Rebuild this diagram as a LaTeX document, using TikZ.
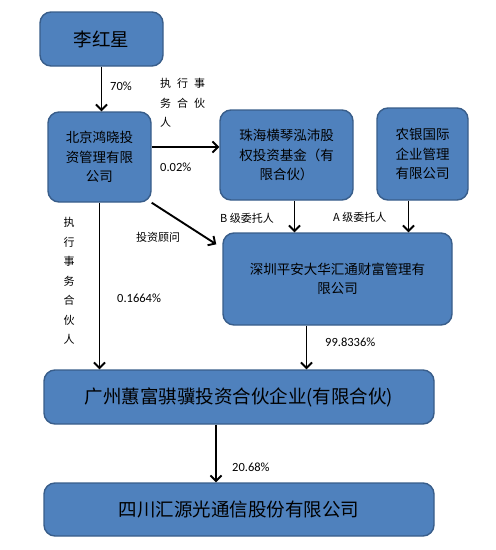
\documentclass[tikz,border=0pt]{standalone}
\usepackage{fontspec}
\newfontfamily\cjk{Noto Sans CJK SC}
\newfontfamily\pct{Carlito}
\usetikzlibrary{positioning, arrows.meta, calc}
\definecolor{boxBlue}{RGB}{79,129,189}
\definecolor{boxEdge}{RGB}{56,93,138}

\begin{document}
\begin{tikzpicture}[
    x=1pt, y=-1pt,
    >={Straight Barb[length=5.5pt,width=11pt]},
    ent/.style={draw=boxEdge, line width=1.4pt, fill=boxBlue,
                rounded corners=11pt, align=center, inner sep=0pt,
                font=\cjk\fontsize{13.5}{19.5}\selectfont},
    entbig/.style={ent, font=\cjk\fontsize{18.5}{22}\selectfont},
    own/.style={->, line width=1.9pt},
    lbl/.style={font=\cjk\fontsize{11}{19.5}\selectfont, anchor=west,
                inner sep=0pt, align=left},
    pctlbl/.style={font=\pct\fontsize{12.5}{14}\selectfont, anchor=west,
                   inner sep=0pt}
]
\useasboundingbox (0,0) rectangle (496,550);

% ---- entities ----
\node[entbig, minimum width=123pt, minimum height=54pt] (lhx) at (101.5,39) {李红星};
\node[ent, minimum width=103pt, minimum height=90pt] (bj) at (99.5,157)
     {北京鸿晓投\\资管理有限\\公司};
\node[ent, minimum width=133pt, minimum height=90pt] (zh) at (286.5,155)
     {珠海横琴泓沛股\\权投资基金（有\\限合伙）};
\node[ent, minimum width=91pt, minimum height=92pt] (ny) at (422.5,154)
     {农银国际\\企业管理\\有限公司};
\node[ent, minimum width=229pt, minimum height=92pt] (sz) at (337.5,279)
     {深圳平安大华汇通财富管理有\\限公司};
\node[entbig, minimum width=390pt, minimum height=54pt] (gz) at (239,397)
     {广州蕙富骐骥投资合伙企业(有限合伙)};
\node[entbig, minimum width=390pt, minimum height=53pt] (sc) at (239,509.5)
     {四川汇源光通信股份有限公司};

% ---- ownership arrows ----
\draw[own] (lhx.south) -- (lhx.south |- bj.north);
\draw[own] ([yshift=10pt]bj.east) -- ([yshift=10pt]bj.east -| zh.west);
\draw[own] ([xshift=8pt]zh.south) -- ([xshift=8pt]zh.south |- sz.north);
\draw[own] ([xshift=-14pt]ny.south) -- ([xshift=-14pt]ny.south |- sz.north);
\draw[own] (bj.south east) -- ([xshift=-6pt,yshift=-12pt]sz.north west);
\draw[own] (bj.south) -- (bj.south |- gz.north);
\draw[own] ([xshift=-31pt]sz.south) -- ([xshift=-31pt]sz.south |- gz.north);
\draw[own] ([xshift=-23pt]gz.south) -- ([xshift=-23pt]gz.south |- sc.north);

% ---- labels ----
\node[pctlbl] (p70) at (110,86) {70\%};
\node[lbl] (gp1) at (160,103) {执\hspace{6pt}行\hspace{6pt}事\\务\hspace{6pt}合\hspace{6pt}伙\\人};
\node[pctlbl] (p002) at (160,167) {0.02\%};
\node[lbl] (bcls) at (220,218) {B 级委托人};
\node[lbl] (acls) at (333,217) {A 级委托人};
\node[lbl] (adv) at (136,237) {投资顾问};
\node[lbl, align=center, anchor=center] (gp2) at (69,281) {执\\行\\事\\务\\合\\伙\\人};
\node[pctlbl] (p1664) at (117,298) {0.1664\%};
\node[pctlbl] (p9983) at (325,342) {99.8336\%};
\node[pctlbl] (p2068) at (232,467) {20.68\%};
\end{tikzpicture}
\end{document}
